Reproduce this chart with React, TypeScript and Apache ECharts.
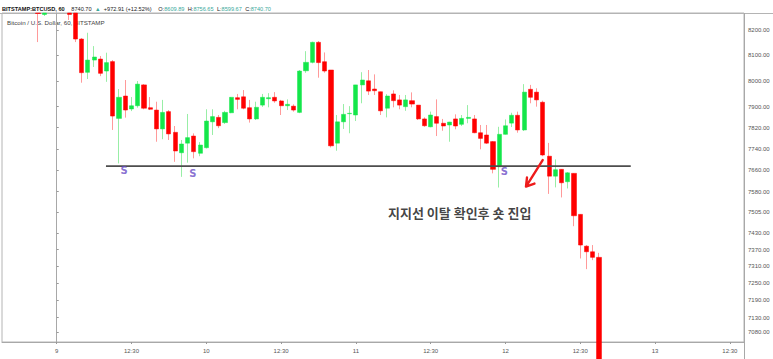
import React, { useEffect, useRef } from "react";
import * as echarts from "echarts";

// hour offsets from 9th 00:00 (60-minute candles); candles that run above the pane are read at the pane top
const hours = [-3, -2, 2, 3, 4, 5, 6, 7, 8, 9, 10, 11, 12, 13, 14, 15, 16, 17, 18, 19, 20, 21, 22, 23, 24, 25, 26, 27, 28, 29, 30, 31, 32, 33, 34, 35, 36, 37, 38, 39, 40, 41, 42, 43, 44, 45, 46, 47, 48, 49, 50, 51, 52, 53, 54, 55, 56, 57, 58, 59, 60, 61, 62, 63, 64, 65, 66, 67, 68, 69, 70, 71, 72, 73, 74, 75, 76, 77, 78, 79, 80, 81, 82, 83, 84, 85, 86, 87];
const opens = [8268, 8262, 8268, 8268, 8164, 8033, 8081, 8085, 8038, 8075, 7855, 7941, 7891, 7903.5, 7984, 7896, 7887, 7815, 7881, 7802, 7725, 7761, 7788, 7723, 7744, 7842, 7859, 7839, 7876.6, 7934.5, 7938, 7896, 7853, 7906, 7930.5, 7936, 7922, 7903.5, 7902, 7878, 8039, 8072, 8151, 8074.5, 8042, 7761, 7842, 7873, 7868, 7984, 8000, 7968, 7957.5, 7894, 7949, 7926, 7900, 7923, 7906, 7853, 7823, 7862, 7836.5, 7830, 7853, 7832.5, 7855, 7853, 7800.5, 7792, 7767, 7672.5, 7794.5, 7837, 7867, 7811, 7967, 7956, 7917, 7712, 7637.5, 7663, 7617, 7648, 7497, 7382, 7362, 7342];
const closes = [8266, 8268, 8262, 8164, 8031.5, 8081, 8093, 8029, 8071, 7864, 7936, 7887, 7903.5, 7987, 7894, 7890, 7815, 7878, 7796, 7731.5, 7758, 7782, 7729, 7754, 7845, 7862, 7827, 7878, 7936, 7928, 7894, 7853, 7897.5, 7936, 7934.5, 7922, 7903.5, 7909, 7887, 8038, 8072, 8151, 8071, 8038, 7751, 7842, 7870.5, 7874.5, 7984, 8003, 7960, 7961.5, 7884, 7941, 7923, 7906, 7926, 7910, 7853, 7827, 7868, 7836.5, 7826, 7841, 7826, 7855, 7859, 7800.5, 7779, 7761, 7663, 7794.5, 7827, 7867, 7811, 7956, 7936, 7926, 7716.5, 7637.5, 7661.5, 7613, 7650, 7492, 7386, 7362, 7342, 6950];
const lows = [8152, 8256, 8240, 8152, 7992.5, 8007, 8054, 8018, 7996, 7811, 7685, 7858, 7883, 7896, 7890, 7887, 7766.5, 7776, 7773, 7691, 7635, 7688, 7704, 7712, 7741, 7792, 7818, 7834, 7875, 7890, 7890, 7839, 7849, 7899, 7897.5, 7915, 7868, 7887, 7881, 7875, 8031, 8068, 8012, 8031.5, 7745, 7732.5, 7815, 7798.5, 7845, 7913, 7945, 7945, 7868, 7859, 7897.5, 7890, 7884, 7897.5, 7849, 7823, 7821, 7788, 7808, 7766.5, 7813.5, 7826, 7836.5, 7798.5, 7738, 7758, 7648, 7595.5, 7794, 7822, 7800.5, 7807, 7913, 7900, 7712, 7572, 7596, 7559, 7592, 7454, 7338, 7300, 7332, 6930];
const highs = [8268, 8268, 8268, 8268, 8168, 8189, 8136, 8097, 8110, 8081, 7968, 8003, 7937, 7999, 7987, 7937, 7919, 7926, 7887, 7826, 7773, 7872, 7798, 7765, 7890, 7890, 7868, 7884, 7937, 7949, 7964, 7926, 7919, 7949, 7952, 7956, 7926, 7928, 7909, 8042, 8116, 8153.5, 8156, 8111, 8042, 7868, 7910, 7902, 7984, 8033.5, 8042, 8025, 7957.5, 7948, 7963, 7945, 7945, 7955, 7906, 7859, 7881, 7928, 7853, 7842, 7870.5, 7868, 7906, 7868, 7830, 7830, 7769, 7823, 7851, 7876.6, 7881, 7987, 7984, 7971, 7923, 7762, 7700, 7663, 7652.6, 7648, 7497, 7386, 7386, 7358];

// axis ticks
const timeTickHours = [0, 12, 24, 36, 48, 60, 72, 84, 96, 108];
const timeTickLabels = ["9", "12:30", "10", "12:30", "11", "12:30", "12", "12:30", "13", "12:30"];
const priceTicks = [8200, 8100, 8000, 7900, 7820, 7740, 7660, 7580, 7505, 7430, 7370, 7310, 7250, 7190, 7130, 7080];
const priceTags = [7793.32, 7615.91];

// drawings
const supportLine = [[7.9, 7675], [92.1, 7675]];
const sMarks = [[10.8, 7657.7], [21.82, 7648], [71.81, 7656.6]];
const noteText = "지지선 이탈 확인후 숏 진입";
const notePoint = [53.15, 7505.5];
const arrowPath = [[77.97, 7697.7], [75.29, 7599], [75.45, 7632.4], [75.29, 7599], [76.65, 7610.2]];

const RED = "#ff0000";
const GREEN = "#14e64a";
const RED_WICK = "#ff9a9a";
const GREEN_WICK = "#98eea6";

export default function App() {
  const ref = useRef<HTMLDivElement>(null);
  useEffect(() => {
    if (!ref.current) return;
    const chart = echarts.init(ref.current, undefined, { renderer: "svg" });
    const wickData = hours.map((h, i) => [h, opens[i], closes[i], lows[i], highs[i]]);
    const bodyData = hours.map((h, i) => [h, opens[i], closes[i], Math.min(opens[i], closes[i]), Math.max(opens[i], closes[i])]);
    const font = "Liberation Sans, Arial, sans-serif";
    chart.setOption({
      animation: false,
      backgroundColor: "#ffffff",
      textStyle: { fontFamily: font },
      grid: { left: 2, right: 29, top: 13, bottom: 17, show: true, borderColor: "#b4b4b4", borderWidth: 1 },
      xAxis: {
        type: "value",
        min: -8.78,
        max: 110.27,
        axisLine: { show: true, lineStyle: { color: "#a8a8a8", width: 1 } },
        axisTick: { show: true, length: 2, customValues: timeTickHours, lineStyle: { color: "#999" } },
        axisLabel: {
          customValues: timeTickHours,
          fontSize: 6,
          color: "#555",
          margin: 6,
          formatter: (v: number) => {
            const i = timeTickHours.indexOf(Math.round(v));
            return i >= 0 ? timeTickLabels[i] : "";
          },
        },
        splitLine: { show: false },
      },
      yAxis: {
        type: "log",
        logBase: 10,
        position: "right",
        min: 7046,
        max: 8268,
        axisLine: { show: true, lineStyle: { color: "#a8a8a8", width: 1 } },
        axisTick: { show: true, length: 2, customValues: priceTicks, lineStyle: { color: "#999" } },
        axisLabel: {
          customValues: priceTicks,
          fontSize: 6,
          color: "#555",
          margin: 4,
          formatter: (v: number) => Number(v).toFixed(2),
        },
        splitLine: { show: false },
      },
      series: [
        {
          type: "candlestick",
          data: wickData,
          encode: { x: 0, y: [1, 2, 3, 4] },
          barWidth: 1,
          itemStyle: { color: GREEN_WICK, color0: RED_WICK, borderColor: GREEN_WICK, borderColor0: RED_WICK, borderWidth: 1 },
          clip: true,
          silent: true,
        },
        {
          type: "candlestick",
          data: bodyData,
          encode: { x: 0, y: [1, 2, 3, 4] },
          barWidth: 4.6,
          itemStyle: { color: GREEN, color0: RED, borderColor: GREEN, borderColor0: RED, borderWidth: 0.5 },
          clip: true,
          silent: true,
          markLine: {
            silent: true,
            symbol: "none",
            lineStyle: { opacity: 0 },
            data: priceTags.map((p) => ({ yAxis: p })),
            label: {
              position: "end",
              distance: 1,
              formatter: (p: any) => Number(p.value).toFixed(2),
              backgroundColor: "#131313",
              color: "#ffffff",
              fontSize: 6,
              fontWeight: "bold",
              padding: [2, 2, 1, 3],
            },
          },
        },
        {
          type: "line",
          data: supportLine,
          symbol: "none",
          lineStyle: { color: "#4d4d4d", width: 1.8 },
          z: 5,
          silent: true,
        },
        {
          type: "line",
          data: arrowPath,
          symbol: "none",
          lineStyle: { color: "#ee1b1b", width: 2.4, cap: "round", join: "round" },
          z: 6,
          silent: true,
        },
        {
          type: "scatter",
          data: sMarks,
          symbolSize: 0,
          clip: false,
          silent: true,
          z: 6,
          label: { show: true, position: "inside", formatter: "S", color: "#6a4cc6", fontSize: 10, fontWeight: "bold", fontFamily: "DejaVu Sans, sans-serif" },
        },
        {
          type: "scatter",
          data: [notePoint],
          symbolSize: 0,
          clip: false,
          silent: true,
          z: 6,
          label: {
            show: true,
            position: "right",
            distance: 0,
            formatter: noteText,
            color: "#111111",
            fontSize: 13,
            fontWeight: "bold",
            fontFamily: "Noto Sans CJK KR, sans-serif",
          },
        },
      ],
      graphic: [
        {
          type: "text",
          left: 2,
          top: 3,
          silent: true,
          style: {
            text: "{b|BITSTAMP:BTCUSD, 60}  {n|8740.70} {t|▲} {n|+972.91 (+12.52%)}  {n|O:}{t|8609.89} {n|H:}{t|8756.65} {n|L:}{t|8599.67} {n|C:}{t|8740.70}",
            rich: {
              b: { fontSize: 5.6, fontWeight: "bold", fill: "#111", fontFamily: font },
              n: { fontSize: 5.6, fill: "#222", fontFamily: font },
              t: { fontSize: 5.6, fill: "#3aa99b", fontFamily: font },
            },
          },
        },
        {
          type: "text",
          left: 7,
          top: 19,
          silent: true,
          style: { text: "Bitcoin / U.S. Dollar, 60, BITSTAMP", fontSize: 6.2, fill: "#444", fontFamily: font },
        },
        { type: "line", silent: true, shape: { x1: 0, y1: 13.5, x2: 773, y2: 13.5 }, style: { stroke: "#b4b4b4", lineWidth: 1 } },
        { type: "line", silent: true, shape: { x1: 744.5, y1: 13, x2: 744.5, y2: 359 }, style: { stroke: "#a8a8a8", lineWidth: 1 } },
      ],
    });
    return () => chart.dispose();
  }, []);
  return <div ref={ref} style={{ position: "fixed", left: 0, top: 0, width: 773, height: 359 }} />;
}
